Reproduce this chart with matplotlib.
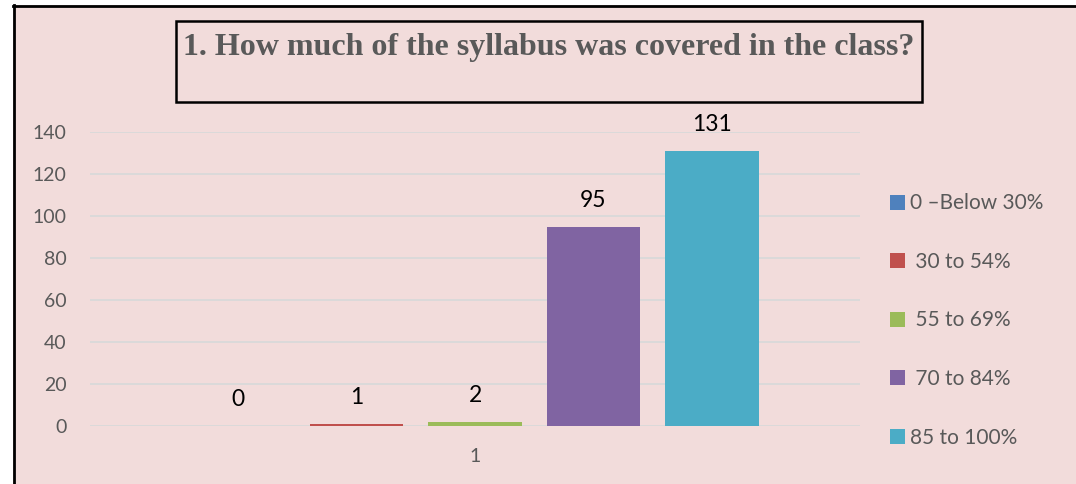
import matplotlib.pyplot as plt
from matplotlib.patches import Rectangle, Patch
from matplotlib.lines import Line2D

categories = ['0 \u2013Below 30%', ' 30 to 54%', ' 55 to 69%', ' 70 to 84%', '85 to 100%']
values = [0, 1, 2, 95, 131]
colors = ['#4F81BD', '#C0504D', '#9BBB59', '#8064A2', '#4BACC6']
offsets = [-2, -1, 0, 1, 2]
yticks = [0, 20, 40, 60, 80, 100, 120, 140]

plt.rcParams['font.family'] = ['Lato', 'DejaVu Sans']

W, H = 1076, 484
fig = plt.figure(figsize=(W / 100, H / 100), dpi=100, facecolor='white')

# pink chart area with black frame on left/top
bg = '#F2DCDB'
fig.patches.append(Rectangle((13 / W, -0.1), 1.2, 1 - 5 / H + 0.1, transform=fig.transFigure,
                             facecolor=bg, edgecolor='none', zorder=-10))
fig.lines.append(Line2D([14 / W, 14 / W], [0, 1 - 5 / H], transform=fig.transFigure, color='black', lw=2))
fig.lines.append(Line2D([13 / W, 1], [1 - 6 / H, 1 - 6 / H], transform=fig.transFigure, color='black', lw=2))

# title box
fig.patches.append(Rectangle((176 / W, 1 - 102 / H), (922 - 176) / W, (102 - 21) / H,
                             transform=fig.transFigure, facecolor='none', edgecolor='black', lw=1.8, zorder=3))
fig.text(549 / W, 1 - 47 / H, '1. How much of the syllabus was covered in the class?',
         ha='center', va='center', fontsize=23, fontweight='bold', color='#595959',
         family='Liberation Serif')

ax = fig.add_axes([90 / W, 1 - 426 / H, (860 - 90) / W, (426 - 132) / H])
ax.set_facecolor('none')

for off, v, c, lab in zip(offsets, values, colors, categories):
    ax.bar(off, v, width=0.79, color=c, label=lab, zorder=2)
    ax.annotate(str(v), (off, v), xytext=(0, 19), textcoords='offset points',
                ha='center', va='center', fontsize=16.5, color='black')

ax.set_xlim(-3.25, 3.25)
ax.set_ylim(0, 140)
ax.set_yticks(yticks)
ax.set_xticks([0])
ax.set_xticklabels(['1'])
ax.yaxis.grid(True, color='#D9D9D9', lw=1.3, zorder=0)
ax.set_axisbelow(True)
for s in ax.spines.values():
    s.set_visible(False)
ax.tick_params(axis='both', length=0, labelsize=14, colors='#595959')
ax.tick_params(axis='y', pad=17)
ax.tick_params(axis='x', pad=16)

handles = [Patch(facecolor=c) for c in colors]
fig.legend(handles, categories, loc='upper left', bbox_to_anchor=(880 / W, 1 - 183 / H),
           frameon=False, fontsize=15, labelcolor='#595959', handlelength=0.72, handleheight=0.72,
           handletextpad=0.2, labelspacing=1.85, borderpad=0)

fig.savefig('out.png', dpi=100, facecolor=fig.get_facecolor())
